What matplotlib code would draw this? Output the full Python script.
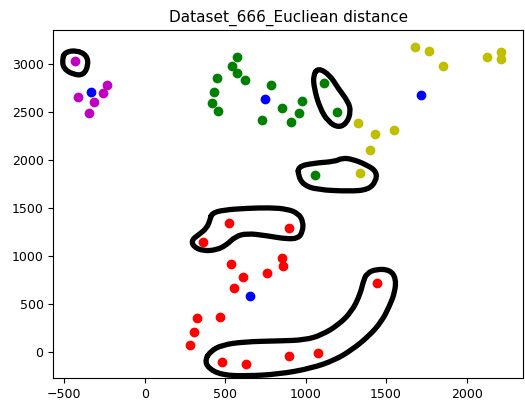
import matplotlib
matplotlib.use('Agg')
import matplotlib.pyplot as plt
from matplotlib.path import Path
from matplotlib.patches import PathPatch

# points des clusters
mag_x = [-433, -236, -257, -412, -313, -344]
mag_y = [3032, 2783, 2696, 2654, 2609, 2495]

green_x = [571, 544, 571, 623, 447, 430, 420, 457, 730, 783, 855, 979, 957, 907, 1116, 1193, 1058]
green_y = [3073, 2980, 2914, 2835, 2852, 2713, 2599, 2512, 2422, 2789, 2540, 2620, 2495, 2394, 2807, 2505, 1840]

yellow_x = [1335, 1325, 1432, 1547, 1398, 1681, 1764, 1851, 2124, 2213, 2213]
yellow_y = [1861, 2384, 2269, 2315, 2107, 3181, 3139, 2983, 3073, 3129, 3059]

red_x = [526, 364, 536, 758, 609, 557, 468, 323, 306, 281, 478, 627, 898, 851, 861, 1443, 898, 1075]
red_y = [1348, 1147, 912, 818, 780, 669, 367, 350, 208, 73, -111, -125, 1292, 974, 897, 714, -42, -10]

# centres
cent_x = [-335, 747, 1716, 654]
cent_y = [2706, 2637, 2679, 579]

# contours dessinés à la main
boucle1 = [(-494, 3129), (-422, 3146), (-360, 3094), (-350, 2990), (-381, 2887),
           (-443, 2893), (-505, 2955), (-512, 3059)]
boucle2 = [(1078, 2963), (1151, 2887), (1203, 2747), (1265, 2609), (1281, 2505),
           (1255, 2384), (1203, 2339), (1140, 2401), (1089, 2540), (1053, 2747), (1047, 2887)]
boucle3 = [(954, 1933), (1047, 1968), (1182, 1985), (1224, 2020), (1286, 2013),
           (1379, 1951), (1441, 1881), (1437, 1778), (1389, 1691), (1275, 1674),
           (1068, 1691), (985, 1743), (954, 1840)]
boucle4 = [(416, 1445), (488, 1479), (634, 1497), (778, 1503), (882, 1490), (954, 1445),
           (985, 1357), (981, 1253), (954, 1184), (882, 1176), (758, 1211), (634, 1236),
           (561, 1200), (509, 1114), (447, 1062), (364, 1051), (302, 1096), (292, 1166),
           (333, 1218), (385, 1288), (406, 1375)]
boucle5 = [(406, 0), (478, 70), (623, 104), (830, 112), (996, 122), (1099, 174),
           (1203, 279), (1286, 418), (1337, 592), (1358, 731), (1379, 818), (1441, 863),
           (1524, 853), (1561, 766), (1555, 626), (1524, 487), (1472, 313), (1389, 157),
           (1286, 18), (1182, -87), (1037, -173), (830, -236), (623, -254), (478, -243),
           (395, -173), (375, -87)]


# courbe fermée lissée : les sommets servent de points de contrôle
def chemin_lisse(pts):
    n = len(pts)
    mil = [((pts[i][0] + pts[(i + 1) % n][0]) / 2, (pts[i][1] + pts[(i + 1) % n][1]) / 2)
           for i in range(n)]
    verts = [mil[-1]]
    codes = [Path.MOVETO]
    for i in range(n):
        verts += [pts[i], mil[i]]
        codes += [Path.CURVE3, Path.CURVE3]
    return Path(verts, codes)


fig = plt.figure(figsize=(5.25, 4.03), dpi=100)
ax = fig.add_axes([0.1015, 0.062, 0.8945, 0.8635])

ax.scatter(mag_x, mag_y, color='m', s=36)
ax.scatter(green_x, green_y, color='g', s=36)
ax.scatter(yellow_x, yellow_y, color='y', s=36)
ax.scatter(red_x, red_y, color='r', s=36)
ax.scatter(cent_x, cent_y, color='b', s=36)

for b in [boucle1, boucle2, boucle3, boucle4, boucle5]:
    ax.add_patch(PathPatch(chemin_lisse(b), facecolor='none', edgecolor='k', lw=3.8,
                           joinstyle='round', capstyle='round'))

ax.set_xlim(-568, 2350)
ax.set_ylim(-275, 3358)
ax.set_xticks([-500, 0, 500, 1000, 1500, 2000])
ax.set_yticks([0, 500, 1000, 1500, 2000, 2500, 3000])
ax.tick_params(labelsize=9)
ax.set_title('Dataset_666_Eucliean distance', fontsize=11)

plt.savefig('out.png', dpi=100)
